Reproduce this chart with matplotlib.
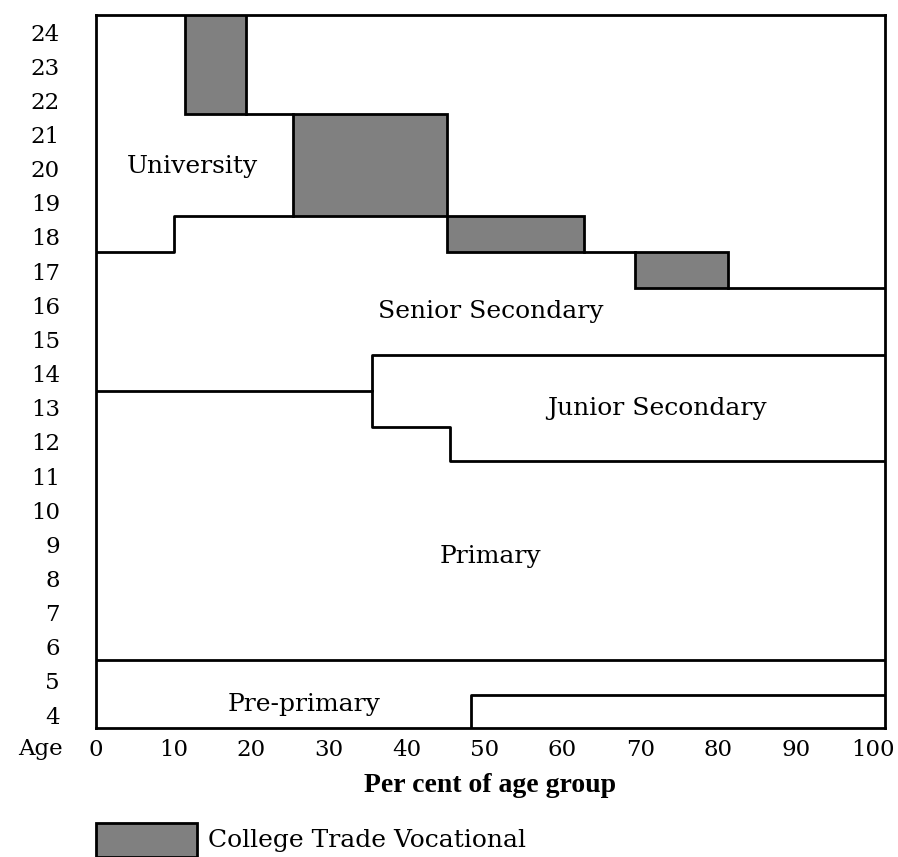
import matplotlib.pyplot as plt
from matplotlib.patches import Rectangle

# ages shown on the y axis and percent ticks on the x axis
ages = list(range(4, 25))
pct_ticks = list(range(0, 101, 10))

# college / trade / vocational blocks (percent start, percent end, age low, age high)
voc_start = [11.5, 25.4, 45.2, 69.4]
voc_end = [19.3, 45.2, 62.8, 81.3]
voc_age_lo = [21.6, 18.6, 17.55, 16.5]
voc_age_hi = [24.5, 21.6, 18.6, 17.55]

# stage boundaries as (percent, age) step lines
univ_floor_pct = [0, 10, 10, 25.4]
univ_floor_age = [17.55, 17.55, 18.6, 18.6]
univ_gap_pct = [19.3, 25.4]
univ_gap_age = [21.6, 21.6]
senior_floor_pct = [62.8, 69.4]
senior_floor_age = [17.55, 17.55]
senior_top_pct = [81.3, 101.5]
senior_top_age = [16.5, 16.5]
junior_top_pct = [0, 35.5, 35.5, 101.5]
junior_top_age = [13.5, 13.5, 14.55, 14.55]
junior_floor_pct = [35.5, 35.5, 45.6, 45.6, 101.5]
junior_floor_age = [13.5, 12.45, 12.45, 11.45, 11.45]
primary_floor_pct = [0, 101.5]
primary_floor_age = [5.6, 5.6]
preprimary_pct = [48.2, 48.2, 101.5]
preprimary_age = [3.63, 4.6, 4.6]

labels = ["University", "Senior Secondary", "Junior Secondary", "Primary", "Pre-primary"]
label_pct = [12.4, 50.8, 72.2, 50.8, 26.8]
label_age = [20.05, 15.83, 12.99, 8.63, 4.32]

plt.rcParams["font.family"] = ["DejaVu Serif"]

fig = plt.figure(figsize=(8.98, 8.57), dpi=100)
ax = fig.add_axes([96 / 898, 1 - 727.7 / 857, (885 - 96) / 898, (727.7 - 15) / 857])

lw = 2.0
ax.bar(voc_start, [h - l for l, h in zip(voc_age_lo, voc_age_hi)],
       width=[e - s for s, e in zip(voc_start, voc_end)], bottom=voc_age_lo,
       align="edge", color="#808080", edgecolor="black", linewidth=lw, zorder=3)

for xs, ys in [(univ_floor_pct, univ_floor_age), (univ_gap_pct, univ_gap_age),
               (senior_floor_pct, senior_floor_age), (senior_top_pct, senior_top_age),
               (junior_top_pct, junior_top_age), (junior_floor_pct, junior_floor_age),
               (primary_floor_pct, primary_floor_age), (preprimary_pct, preprimary_age)]:
    ax.plot(xs, ys, color="black", linewidth=lw, solid_capstyle="projecting", zorder=2)

for text, x, y in zip(labels, label_pct, label_age):
    ax.text(x, y, text, ha="center", va="center", fontsize=18)

ax.set_xlim(0, 101.5)
ax.set_ylim(3.63, 24.5)
ax.set_xticks(pct_ticks)
ax.set_yticks(ages)
ax.tick_params(axis="both", length=0, labelsize=16.5)
ax.tick_params(axis="y", pad=26)
ax.tick_params(axis="x", pad=8)
for s in ax.spines.values():
    s.set_linewidth(lw)

fig.text(40 / 898, 1 - 749 / 857, "Age", ha="center", va="center", fontsize=16.5)
fig.text(490 / 898, 1 - 785 / 857, "Per cent of age group", ha="center", va="center",
         fontsize=20, fontweight="bold", family=["Liberation Serif"])

# legend swatch
fig.patches.append(Rectangle((96 / 898, 0), 101 / 898, 34 / 857, transform=fig.transFigure,
                             facecolor="#808080", edgecolor="black", linewidth=lw))
fig.text(208 / 898, 1 - 840 / 857, "College Trade Vocational", ha="left", va="center",
         fontsize=18)

fig.savefig("out.png", dpi=100)
